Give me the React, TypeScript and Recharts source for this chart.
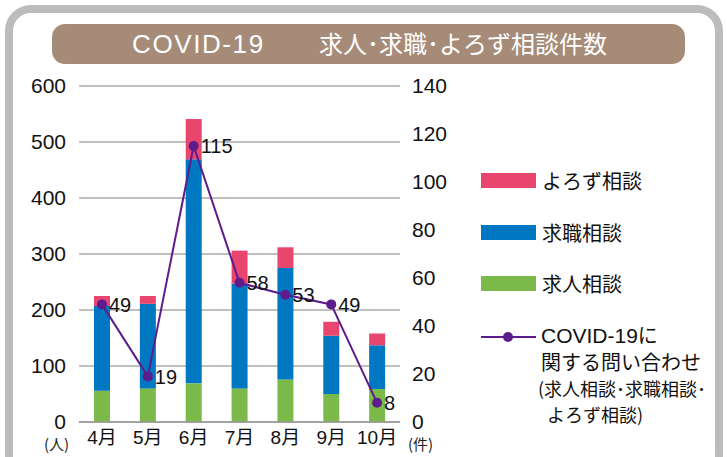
import React from "react";
import {
  ComposedChart,
  Bar,
  Line,
  XAxis,
  YAxis,
  CartesianGrid,
  LabelList,
} from "recharts";

const months = ["4月", "5月", "6月", "7月", "8月", "9月", "10月"];
const kyujin = [56, 60, 69, 60, 76, 50, 59];
const kyushoku = [151, 151, 400, 187, 199, 104, 78];
const yorozu = [18, 14, 72, 59, 37, 25, 21];
const covid = [49, 19, 115, 58, 53, 49, 8];
const leftTicks = [0, 100, 200, 300, 400, 500, 600];
const rightTicks = [0, 20, 40, 60, 80, 100, 120, 140];

const PINK = "#e8466f";
const BLUE = "#0077c1";
const GREEN = "#7cb94b";
const PURPLE = "#5d1c8c";

const data = months.map((m, i) => ({
  month: m,
  kyujin: kyujin[i],
  kyushoku: kyushoku[i],
  yorozu: yorozu[i],
  covid: covid[i],
}));

const FONT = '"Liberation Sans", Arial, "Noto Sans CJK JP", sans-serif';
const JFONT = '"Noto Sans CJK JP", "Liberation Sans", sans-serif';

const legendBars = [
  { name: "よろず相談", color: PINK, top: 173 },
  { name: "求職相談", color: BLUE, top: 225 },
  { name: "求人相談", color: GREEN, top: 276 },
];

export default function App() {
  return (
    <div
      style={{
        position: "absolute",
        left: 0,
        top: 0,
        width: 727,
        height: 457,
        background: "#fff",
        overflow: "hidden",
        fontFamily: FONT,
      }}
    >
      <div
        style={{
          position: "absolute",
          left: 5,
          top: 5,
          width: 702,
          height: 460,
          border: "8px solid #bcbcbc",
          borderRadius: 26,
        }}
      />
      <div
        style={{
          position: "absolute",
          left: 52,
          top: 24,
          width: 633,
          height: 40,
          background: "#a68b78",
          borderRadius: 13,
        }}
      />
      <div
        style={{
          position: "absolute",
          left: 132,
          top: 24,
          height: 40,
          lineHeight: "40px",
          color: "#fff",
          fontSize: 26,
          letterSpacing: 1.6,
          fontFamily: FONT,
          whiteSpace: "nowrap",
        }}
      >
        COVID-19
      </div>
      <div
        style={{
          position: "absolute",
          left: 319,
          top: 23,
          height: 40,
          lineHeight: "40px",
          color: "#fff",
          fontSize: 24,
          fontFamily: JFONT,
          whiteSpace: "nowrap",
        }}
      >
        求人･求職･よろず相談件数
      </div>

      <div style={{ position: "absolute", left: 0, top: 0 }}>
        <ComposedChart
          width={727}
          height={457}
          data={data}
          margin={{ top: 86, right: 267, bottom: 5, left: 0 }}
        >
          <CartesianGrid
            vertical={false}
            stroke="#ababab"
            strokeWidth={1.5}
            yAxisId="left"
          />
          <XAxis
            dataKey="month"
            tickLine={false}
            axisLine={{ stroke: "#999", strokeWidth: 1.5 }}
            height={30}
            tickMargin={3}
            tick={{ fill: "#111", fontSize: 19, fontFamily: FONT }}
            interval={0}
          />
          <YAxis
            yAxisId="left"
            domain={[0, 600]}
            ticks={leftTicks}
            width={79}
            tickLine={false}
            axisLine={false}
            tickMargin={7}
            tick={{ fill: "#111", fontSize: 21, fontFamily: FONT }}
          />
          <YAxis
            yAxisId="right"
            orientation="right"
            domain={[0, 140]}
            ticks={rightTicks}
            width={60}
            tickLine={false}
            axisLine={false}
            tickMargin={6}
            tick={{ fill: "#111", fontSize: 21, fontFamily: FONT, textAnchor: "start" }}
          />
          <Bar yAxisId="left" dataKey="kyujin" stackId="a" fill={GREEN} barSize={16} isAnimationActive={false} />
          <Bar yAxisId="left" dataKey="kyushoku" stackId="a" fill={BLUE} barSize={16} isAnimationActive={false} />
          <Bar yAxisId="left" dataKey="yorozu" stackId="a" fill={PINK} barSize={16} isAnimationActive={false} />
          <Line
            yAxisId="right"
            dataKey="covid"
            stroke={PURPLE}
            strokeWidth={2}
            dot={{ r: 5, fill: PURPLE, stroke: PURPLE, strokeWidth: 0 }}
            isAnimationActive={false}
          >
            <LabelList
              dataKey="covid"
              position="right"
              offset={7}
              style={{ fill: "#111", fontSize: 20, fontFamily: FONT }}
            />
          </Line>
        </ComposedChart>
      </div>

      <div style={{ position: "absolute", left: 44, top: 436, fontSize: 15, lineHeight: "15px", fontFamily: JFONT, color: "#222" }}>(人)</div>
      <div style={{ position: "absolute", left: 408, top: 436, fontSize: 15, lineHeight: "15px", fontFamily: JFONT, color: "#222" }}>(件)</div>

      {legendBars.map((b) => (
        <React.Fragment key={b.name}>
          <div
            style={{
              position: "absolute",
              left: 481,
              top: b.top,
              width: 55,
              height: 15,
              background: b.color,
            }}
          />
          <div
            style={{
              position: "absolute",
              left: 542,
              top: b.top - 7,
              fontSize: 20,
              lineHeight: "30px",
              fontFamily: JFONT,
              color: "#111",
              whiteSpace: "nowrap",
            }}
          >
            {b.name}
          </div>
        </React.Fragment>
      ))}
      <div style={{ position: "absolute", left: 481, top: 336, width: 55, height: 2, background: PURPLE }} />
      <div
        style={{
          position: "absolute",
          left: 503,
          top: 332,
          width: 10,
          height: 10,
          borderRadius: 5,
          background: PURPLE,
        }}
      />
      <div
        style={{
          position: "absolute",
          left: 541,
          top: 322,
          fontSize: 20,
          lineHeight: "26px",
          fontFamily: JFONT,
          color: "#111",
          whiteSpace: "nowrap",
        }}
      >
        <div style={{ fontFamily: FONT, fontSize: 21 }}>COVID-19<span style={{ fontFamily: JFONT, fontSize: 20 }}>に</span></div>
        <div>関する問い合わせ</div>
        <div style={{ fontSize: 18, marginLeft: -3 }}>(求人相談･求職相談･</div>
        <div style={{ fontSize: 18, marginLeft: 6 }}>よろず相談)</div>
      </div>
    </div>
  );
}
